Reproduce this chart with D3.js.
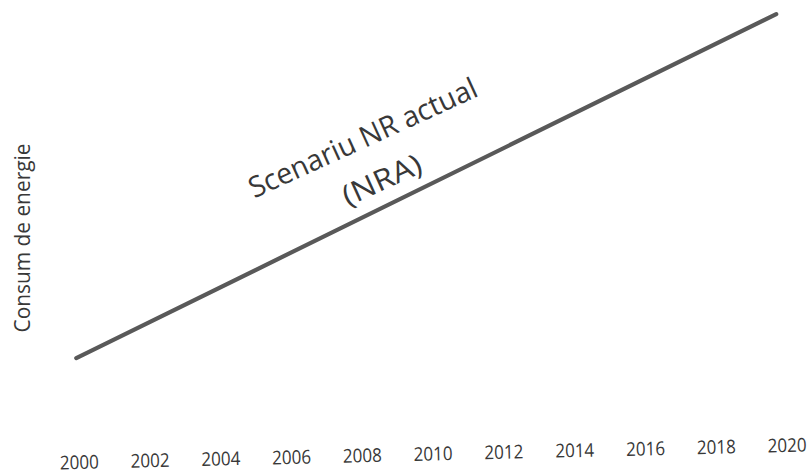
<!DOCTYPE html>
<html>
<head>
<meta charset="utf-8">
<script src="https://cdn.jsdelivr.net/npm/d3@7"></script>
<style>
  html, body { margin: 0; padding: 0; background: #fff; }
  svg { display: block; }
  text { font-family: "Open Sans", Lato, sans-serif; fill: #383838; }
</style>
</head>
<body>
<svg id="chart" width="811" height="476"></svg>
<script>
// ---- data ----
const years = [2000, 2020];
const nraValues = [19.5, 97.4];
const tickYears = [2000, 2002, 2004, 2006, 2008, 2010, 2012, 2014, 2016, 2018, 2020];
const yAxisTitle = "Consum de energie";
const seriesLabel = ["Scenariu NR actual", "(NRA)"];

const svg = d3.select("#chart");

// whole scanned chart is slightly tilted
const g = svg.append("g").attr("transform", "rotate(-1.37, 79, 472)");

const x = d3.scaleLinear().domain([2000, 2020]).range([79, 787]);
const y = d3.scaleLinear().domain([0, 100]).range([440, 20]);

// x axis labels (no axis line / ticks visible)
const xAxis = d3.axisBottom(x).tickValues(tickYears).tickFormat(d3.format("d")).tickSize(0).tickPadding(0);
const ax = g.append("g").attr("transform", "translate(0,456)").call(xAxis);
ax.select(".domain").remove();
ax.selectAll("text")
  .attr("dy", 0).attr("y", 13)
  .style("font-size", "19px")
  .style("fill", "#383838")
  .style("font-family", "'Open Sans', Lato, sans-serif")
  .attr("textLength", 39).attr("lengthAdjust", "spacingAndGlyphs");

// series line
const pts = years.map((yr, i) => [yr, nraValues[i]]);
const line = d3.line().x(d => x(d[0])).y(d => y(d[1]));
g.append("path")
  .datum(pts)
  .attr("d", line)
  .attr("fill", "none")
  .attr("stroke", "#595959")
  .attr("stroke-width", 4.2)
  .attr("stroke-linecap", "round");

// y axis title
svg.append("text")
  .attr("transform", "translate(30,238) rotate(-90)")
  .attr("text-anchor", "middle")
  .style("font-size", "21px")
  .attr("textLength", 189).attr("lengthAdjust", "spacingAndGlyphs")
  .text(yAxisTitle);

// series annotation
svg.append("text")
  .attr("transform", "translate(367,147) rotate(-24.5)")
  .attr("text-anchor", "middle")
  .style("font-size", "29px")
  .attr("textLength", 248).attr("lengthAdjust", "spacingAndGlyphs")
  .text(seriesLabel[0]);
svg.append("text")
  .attr("transform", "translate(386,189) rotate(-24.5)")
  .attr("text-anchor", "middle")
  .style("font-size", "29px")
  .attr("textLength", 84).attr("lengthAdjust", "spacingAndGlyphs")
  .text(seriesLabel[1]);
</script>
</body>
</html>
